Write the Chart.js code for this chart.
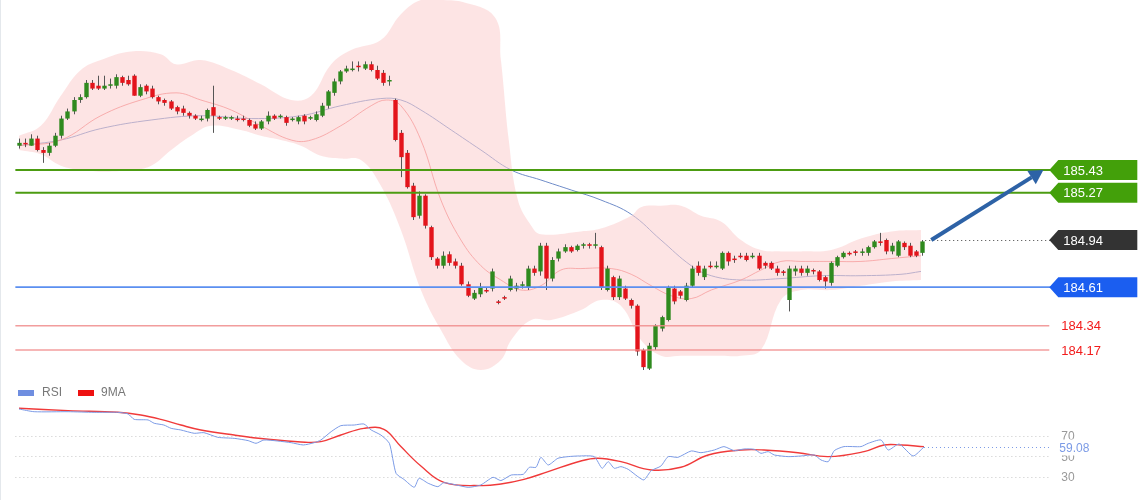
<!DOCTYPE html>
<html><head><meta charset="utf-8">
<script src="https://cdn.jsdelivr.net/npm/chart.js@4.4.1/dist/chart.umd.min.js"></script>
<style>
html,body{margin:0;padding:0;background:#fff;overflow:hidden}
#wrap{position:relative;width:1140px;height:500px;border-left:1px solid #e4e8ec;box-sizing:border-box}
canvas{position:absolute;left:0}
</style></head><body>
<div id="wrap">
<canvas id="price" width="1140" height="380" style="top:0"></canvas>
<canvas id="rsi" width="1140" height="120" style="top:380px"></canvas>
</div>
<script>
const opens=[185.60,185.62,185.60,185.65,185.57,185.55,185.60,185.67,185.79,185.84,
185.92,185.94,186.04,186.02,186.00,186.02,186.02,186.08,186.06,186.09,
185.95,186.02,186.00,185.94,185.92,185.91,185.87,185.86,185.83,185.81,
185.79,185.79,185.87,185.80,185.79,185.79,185.79,185.79,185.78,185.75,
185.72,185.77,185.81,185.80,185.80,185.78,185.77,185.81,185.79,185.78,
185.81,185.88,185.97,186.05,186.12,186.13,186.16,186.14,186.17,186.13,
186.11,186.05,185.92,185.69,185.55,185.32,185.11,185.25,185.03,184.81,
184.76,184.84,184.79,184.76,184.63,184.53,184.56,184.59,184.60,184.51,
184.54,184.59,184.60,184.62,184.61,184.74,184.72,184.90,184.67,184.81,
184.86,184.89,184.87,184.90,184.91,184.90,184.89,184.59,184.68,184.54,
184.60,184.52,184.48,184.17,184.04,184.19,184.32,184.38,184.60,184.58,
184.52,184.62,184.76,184.68,184.76,184.75,184.74,184.85,184.81,184.83,
184.83,184.82,184.83,184.78,184.78,184.74,184.72,184.52,184.72,184.74,
184.71,184.73,184.72,184.68,184.64,184.76,184.82,184.85,184.86,184.85,
184.85,184.89,184.93,184.94,184.86,184.83,184.92,184.90,184.86,184.85];
const closes=[185.62,185.61,185.65,185.57,185.55,185.60,185.67,185.79,185.84,185.92,
185.94,186.04,186.00,186.00,186.02,186.03,186.08,186.04,186.03,185.95,
186.01,185.98,185.94,185.91,185.90,185.86,185.84,185.83,185.81,185.79,
185.79,185.85,185.81,185.79,185.80,185.80,185.78,185.78,185.74,185.72,
185.77,185.81,185.79,185.81,185.76,185.79,185.80,185.77,185.80,185.82,
185.88,185.98,186.05,186.12,186.14,186.14,186.15,186.17,186.13,186.07,
186.04,186.06,185.64,185.52,185.31,185.10,185.25,185.04,184.82,184.76,
184.83,184.78,184.76,184.63,184.55,184.57,184.61,184.58,184.72,184.50,
184.53,184.67,184.62,184.63,184.74,184.71,184.90,184.67,184.80,184.86,
184.89,184.86,184.90,184.91,184.90,184.91,184.61,184.74,184.54,184.67,
184.53,184.48,184.16,184.05,184.20,184.34,184.40,184.61,184.51,184.55,
184.62,184.74,184.71,184.74,184.75,184.76,184.85,184.79,184.80,184.82,
184.80,184.83,184.74,184.76,184.74,184.71,184.71,184.74,184.74,184.71,
184.74,184.72,184.66,184.65,184.78,184.82,184.85,184.84,184.85,184.86,
184.89,184.93,184.92,184.86,184.90,184.93,184.89,184.83,184.83,184.93];
const highs=[185.65,185.65,185.68,185.67,185.59,185.62,185.69,185.81,185.86,185.94,
185.96,186.06,186.06,186.09,186.09,186.07,186.10,186.09,186.09,186.10,
186.03,186.03,186.02,185.95,185.93,185.92,185.88,185.88,185.84,185.82,
185.81,185.86,186.02,185.81,185.81,185.81,185.81,185.81,185.79,185.77,
185.78,185.84,185.82,185.82,185.81,185.80,185.81,185.82,185.81,185.84,
185.90,185.99,186.07,186.13,186.16,186.19,186.19,186.19,186.19,186.16,
186.13,186.09,185.93,185.71,185.57,185.34,185.28,185.26,185.04,184.82,
184.86,184.86,184.81,184.78,184.65,184.59,184.64,184.61,184.74,184.52,
184.55,184.69,184.64,184.65,184.76,184.76,184.92,184.92,184.82,184.88,
184.91,184.90,184.91,184.92,184.92,184.99,184.90,184.76,184.69,184.69,
184.62,184.53,184.49,184.18,184.22,184.35,184.41,184.62,184.62,184.59,
184.64,184.76,184.79,184.76,184.79,184.79,184.86,184.86,184.83,184.85,
184.85,184.85,184.85,184.79,184.79,184.76,184.73,184.76,184.76,184.76,
184.76,184.74,184.73,184.69,184.79,184.83,184.86,184.86,184.87,184.88,
184.90,184.94,184.99,184.95,184.92,184.94,184.93,184.92,184.87,184.94];
const lows=[185.58,185.59,185.60,185.56,185.48,185.53,185.59,185.65,185.78,185.82,
185.90,185.93,185.99,185.99,185.99,186.00,186.00,186.02,186.02,185.95,
185.94,185.96,185.93,185.89,185.88,185.85,185.82,185.81,185.79,185.78,
185.77,185.77,185.69,185.78,185.78,185.78,185.77,185.77,185.73,185.71,
185.71,185.75,185.78,185.79,185.74,185.77,185.75,185.75,185.78,185.77,
185.80,185.86,185.95,186.03,186.11,186.12,186.12,186.13,186.12,186.06,
186.02,186.02,185.63,185.38,185.30,185.08,185.09,185.02,184.80,184.74,
184.74,184.76,184.74,184.62,184.54,184.52,184.54,184.57,184.58,184.49,
184.52,184.58,184.58,184.60,184.59,184.69,184.69,184.59,184.65,184.79,
184.85,184.85,184.86,184.88,184.88,184.88,184.59,184.58,184.52,184.52,
184.52,184.46,184.13,184.03,184.03,184.17,184.30,184.37,184.49,184.53,
184.51,184.61,184.69,184.66,184.74,184.74,184.73,184.76,184.78,184.81,
184.79,184.81,184.73,184.74,184.73,184.69,184.69,184.44,184.69,184.69,
184.69,184.70,184.65,184.60,184.62,184.75,184.81,184.83,184.83,184.83,
184.83,184.88,184.90,184.84,184.84,184.82,184.87,184.82,184.82,184.83];

const bandUpper=[[0,185.67],[3.6,185.74],[6.9,185.95],[10.2,186.13],[13.5,186.20],[18.5,186.26],[23.4,186.24],[25.9,186.17],[30,186.20],[35,186.13],[39.9,186.03],[44.9,185.92],[48.2,185.95],[51.5,186.17],[54.8,186.27],[59.7,186.34],[63,186.52],[66.3,186.62],[69.6,186.62],[72.9,186.61],[78.5,186.50],[79.5,186.20],[80.8,185.64],[82.3,185.22],[84.5,185.04],[86.1,184.98],[92.7,185.00],[96,185.02],[101,185.11],[102.6,185.17],[105.9,185.18],[109.2,185.18],[112.5,185.11],[115.8,185.07],[119.1,184.94],[122.4,184.87],[125.7,184.86],[129,184.86],[134,184.87],[138.9,184.95],[143.9,185.00],[148.8,185.01]];
const bandLower=[[0,185.57],[3.6,185.54],[6.9,185.46],[10.2,185.43],[13.5,185.42],[18.5,185.43],[21.8,185.46],[25.1,185.57],[28.4,185.67],[31.7,185.74],[36.6,185.71],[39.9,185.67],[43.2,185.64],[46.5,185.60],[49.8,185.53],[53.1,185.51],[56.4,185.50],[59.7,185.32],[63,185.01],[66.3,184.59],[69.6,184.31],[72.9,184.10],[76.2,184.03],[79.5,184.10],[81.2,184.24],[84.5,184.38],[87.8,184.38],[92.7,184.45],[96,184.52],[99.3,184.48],[102.6,184.24],[105.9,184.13],[109.2,184.13],[115.8,184.13],[119.1,184.13],[122.4,184.17],[125.7,184.52],[129,184.59],[134,184.59],[138.9,184.62],[143.9,184.65],[148.8,184.66]];
const maFast=[[0,185.60],[6.9,185.64],[13.5,185.81],[20.1,185.92],[25.9,185.97],[30,185.92],[35,185.85],[39.9,185.74],[44.9,185.64],[48.2,185.64],[53.1,185.74],[58.1,185.88],[60.6,185.92],[63,185.88],[66.3,185.64],[69.6,185.22],[72.9,184.94],[76.2,184.76],[79.5,184.66],[82.8,184.59],[86.1,184.62],[89.4,184.73],[92.7,184.74],[97.7,184.74],[101,184.70],[104.3,184.62],[107.6,184.55],[110.9,184.53],[114.2,184.59],[119.1,184.66],[122.4,184.73],[125.7,184.79],[129,184.79],[134,184.79],[138.9,184.79],[143.9,184.81],[148.8,184.83]];
const maSlow=[[0,185.60],[6.9,185.64],[13.5,185.72],[21.8,185.78],[30,185.81],[38.3,185.79],[46.5,185.81],[53.1,185.88],[59.7,185.93],[63,185.92],[66.3,185.85],[71.3,185.71],[76.2,185.57],[81.2,185.43],[86.1,185.36],[91.1,185.29],[96,185.22],[101,185.12],[105.9,184.94],[110.9,184.76],[114.2,184.69],[119.1,184.66],[125.7,184.67],[132.3,184.69],[138.9,184.69],[145.5,184.70],[148.8,184.72]];

const rsiValues=[[0,95.8],[2.5,93.2],[8.1,93.2],[12.4,92.6],[16.3,92.6],[18,91],[19,85.8],[21.3,85.2],[22.3,82],[23.9,80.3],[25.1,77.1],[26.7,75.5],[28.9,72.3],[30.5,72.9],[32.8,68.4],[35.5,67.4],[37.8,65.2],[39.1,62.6],[40.4,65.8],[42.7,64.8],[44.9,63.2],[46.9,61],[48.7,63.2],[49.8,65.8],[51.5,73.9],[53.1,79.7],[55.3,80.3],[56.9,81.3],[58.1,75.5],[59.7,70.6],[61.1,62.6],[62.2,33.5],[63.5,27.7],[65.2,20],[66,28.7],[67.5,23.9],[69.1,20.6],[70.1,24.5],[74.1,20],[76.2,22.3],[78.2,29.7],[79.5,26.5],[81.2,31.9],[83.2,32.6],[84.2,39.4],[85.3,39.4],[86.1,49],[87.3,41.6],[88.9,48.1],[90.6,49.7],[92.2,50.3],[94.9,49.7],[96.2,38.4],[97.2,44.8],[98.2,38.4],[99.3,40],[100.5,37.4],[102.1,30.3],[103.1,27.1],[104.3,36.1],[105.9,40.6],[107.1,49.7],[108.7,49],[110.9,55.2],[112.5,53.5],[114.7,56.1],[116.3,59.4],[118,55.5],[119.6,57.1],[121.3,56.8],[122.4,52.9],[123.6,54.5],[124.6,51.3],[126.9,49.7],[129,50.3],[131.2,51.3],[132.3,46.5],[133.5,44.8],[134.5,55.5],[136.1,59.4],[138.9,59.4],[140.1,62.6],[142.2,65.8],[143.4,56.1],[145.2,61.9],[147.5,50.3],[149.3,59.08]];
const rsiMA=[[0,96.5],[8.1,94.2],[16.3,92.6],[20.1,90],[23.4,85.8],[26.7,80.3],[30,75.5],[35.5,70.6],[41.1,66.5],[46.5,63.9],[49.8,64.2],[53.1,70.6],[56.9,77.1],[60.2,76.1],[63,59.4],[66.3,40.6],[70.1,24.8],[76.2,21.6],[79.5,23.2],[83.3,27.7],[87.3,35.2],[92.7,45.5],[95.5,48.1],[99.3,44.8],[104.3,36.8],[109.2,39.4],[113.7,51.3],[119.1,56.1],[122.9,56.1],[128.5,53.5],[133.5,49.7],[139.4,54.5],[142.7,61],[145.5,61],[149.3,59.4]];

const resistances=[185.43,185.27];
const lastPrice=184.94;
const pivot=184.61;
const supports=[184.34,184.17];
const rsiLevels=[70,50,30];
const rsiLast=59.08;
const arrowFrom=[150.5,184.94], arrowTo=[169,185.43];

const X_MIN=-2.97, X_MAX=185.1, LINE_START=-0.6, LINE_END=170.3;
const FONT='"Liberation Sans", Arial, sans-serif';

function xy(a){return a.map(p=>({x:p[0],y:p[1]}));}

function labelBox(ctx,xr,y,text,bg){
  const x0=xr, x1=xr+86, h=20;
  ctx.save();
  ctx.fillStyle=bg;
  ctx.beginPath();
  ctx.moveTo(x0-2,y);ctx.lineTo(x0+7,y-h/2);ctx.lineTo(x1,y-h/2);ctx.lineTo(x1,y+h/2);ctx.lineTo(x0+7,y+h/2);ctx.closePath();ctx.fill();
  ctx.fillStyle='#fff';ctx.font='13px '+FONT;ctx.textBaseline='middle';
  ctx.fillText(text,x0+12,y+1);
  ctx.restore();
}

const pricePlugin={
  id:'price',
  afterDatasetsDraw(chart){
    const ctx=chart.ctx, xs=chart.scales.x, ys=chart.scales.y;
    const xa=xs.getPixelForValue(LINE_START), xb=xs.getPixelForValue(LINE_END);
    // candles
    const w=xs.getPixelForValue(1)-xs.getPixelForValue(0);
    for(let i=0;i<closes.length;i++){
      const cx=Math.round(xs.getPixelForValue(i))+0.5;
      const up=closes[i]>=opens[i];
      const col=up?'#2f8a1e':'#e3141b';
      ctx.strokeStyle='#555';ctx.lineWidth=1;
      ctx.beginPath();ctx.moveTo(cx,ys.getPixelForValue(highs[i]));ctx.lineTo(cx,ys.getPixelForValue(lows[i]));ctx.stroke();
      const yo=ys.getPixelForValue(opens[i]), yc=ys.getPixelForValue(closes[i]);
      const top=Math.min(yo,yc), hh=Math.max(1.5,Math.abs(yo-yc));
      ctx.fillStyle=col;
      ctx.fillRect(cx-w*0.36,top,w*0.72,hh);
    }
    // levels
    ctx.save();
    resistances.forEach(v=>{const y=ys.getPixelForValue(v);ctx.strokeStyle='#4c9c12';ctx.lineWidth=2;ctx.beginPath();ctx.moveTo(xa,y);ctx.lineTo(xb,y);ctx.stroke();});
    {const y=ys.getPixelForValue(pivot);ctx.strokeStyle='#5b8ff0';ctx.lineWidth=1.6;ctx.beginPath();ctx.moveTo(xa,y);ctx.lineTo(xb,y);ctx.stroke();}
    supports.forEach(v=>{const y=ys.getPixelForValue(v);ctx.strokeStyle='rgba(240,140,140,0.85)';ctx.lineWidth=1.4;ctx.beginPath();ctx.moveTo(xa,y);ctx.lineTo(xb-2,y);ctx.stroke();});
    {const y=Math.round(ys.getPixelForValue(lastPrice))+0.5;ctx.strokeStyle='#444';ctx.lineWidth=1;ctx.setLineDash([1,3]);ctx.beginPath();ctx.moveTo(xs.getPixelForValue(closes.length-0.5),y);ctx.lineTo(xb,y);ctx.stroke();ctx.setLineDash([]);}
    // arrow
    const ax=xs.getPixelForValue(arrowFrom[0]), ay=ys.getPixelForValue(arrowFrom[1]);
    const bx=xs.getPixelForValue(arrowTo[0]), by=ys.getPixelForValue(arrowTo[1]);
    const ang=Math.atan2(by-ay,bx-ax);
    const hx=bx-14*Math.cos(ang), hy=by-14*Math.sin(ang);
    ctx.strokeStyle='#2d62a6';ctx.fillStyle='#2d62a6';ctx.lineWidth=4;
    ctx.beginPath();ctx.moveTo(ax,ay);ctx.lineTo(hx,hy);ctx.stroke();
    ctx.beginPath();ctx.moveTo(bx,by);
    ctx.lineTo(hx+8*Math.cos(ang+Math.PI/2),hy+8*Math.sin(ang+Math.PI/2));
    ctx.lineTo(hx-8*Math.cos(ang+Math.PI/2),hy-8*Math.sin(ang+Math.PI/2));
    ctx.closePath();ctx.fill();
    ctx.restore();
    // labels
    resistances.forEach(v=>labelBox(ctx,xb,ys.getPixelForValue(v),v.toFixed(2),'#43a00a'));
    labelBox(ctx,xb,ys.getPixelForValue(lastPrice),lastPrice.toFixed(2),'#333333');
    labelBox(ctx,xb,ys.getPixelForValue(pivot),pivot.toFixed(2),'#1b5ef0');
    ctx.save();ctx.fillStyle='#f21c1c';ctx.font='13px '+FONT;ctx.textBaseline='middle';
    supports.forEach(v=>ctx.fillText(v.toFixed(2),xb+10,ys.getPixelForValue(v)+1));
    ctx.restore();
  }
};

new Chart(document.getElementById('price'),{
  type:'line',
  data:{datasets:[
    {data:xy(bandUpper),borderWidth:0,borderColor:'rgba(0,0,0,0)',backgroundColor:'rgba(252,205,205,0.55)',fill:'+1',tension:0.4,pointRadius:0},
    {data:xy(bandLower),borderWidth:0,borderColor:'rgba(0,0,0,0)',fill:false,tension:0.4,pointRadius:0},
    {data:xy(maFast),borderWidth:1,borderColor:'rgba(240,100,100,0.8)',fill:false,tension:0.4,pointRadius:0},
    {data:xy(maSlow),borderWidth:1,borderColor:'#6f8cc8',fill:false,tension:0.4,pointRadius:0}
  ]},
  options:{responsive:false,animation:false,events:[],layout:{padding:0},
    plugins:{legend:{display:false},tooltip:{enabled:false}},
    scales:{x:{type:'linear',min:X_MIN,max:X_MAX,display:false},y:{min:183.96,max:186.62,display:false}}},
  plugins:[pricePlugin]
});

const rsiPlugin={
  id:'rsiDeco',
  beforeDatasetsDraw(chart){
    const ctx=chart.ctx, xs=chart.scales.x, ys=chart.scales.y;
    const xa=xs.getPixelForValue(LINE_START), xb=xs.getPixelForValue(LINE_END);
    ctx.save();ctx.strokeStyle='#c8c8c8';ctx.lineWidth=1;ctx.setLineDash([1,3]);
    rsiLevels.forEach(v=>{const y=Math.round(ys.getPixelForValue(v))+0.5;ctx.beginPath();ctx.moveTo(xa,y);ctx.lineTo(xb,y);ctx.stroke();});
    ctx.strokeStyle='#7c9be6';
    const y=Math.round(ys.getPixelForValue(rsiLast))+0.5;
    ctx.beginPath();ctx.moveTo(xs.getPixelForValue(149.3),y);ctx.lineTo(xb,y);ctx.stroke();
    ctx.setLineDash([]);
    ctx.font='12px '+FONT;ctx.textBaseline='middle';ctx.fillStyle='#999';
    rsiLevels.forEach(v=>ctx.fillText(String(v),xb+10,ys.getPixelForValue(v)+1));
    ctx.fillStyle='#fff';ctx.fillRect(xb+6,y-8,40,16);
    ctx.fillStyle='#7c9be6';ctx.fillText(rsiLast.toFixed(2),xb+8,y+1);
    // legend
    ctx.fillStyle='#6f8ee0';ctx.fillRect(17,10,16,6);
    ctx.fillStyle='#ee1111';ctx.fillRect(77,10,16,6);
    ctx.fillStyle='#777';ctx.fillText('RSI',41,13);ctx.fillText('9MA',100,13);
    ctx.restore();
  }
};

new Chart(document.getElementById('rsi'),{
  type:'line',
  data:{datasets:[
    {data:xy(rsiValues),borderWidth:1,borderColor:'#7c9be6',fill:false,tension:0.2,pointRadius:0},
    {data:xy(rsiMA),borderWidth:1.4,borderColor:'#f03a3a',fill:false,tension:0.4,pointRadius:0}
  ]},
  options:{responsive:false,animation:false,events:[],layout:{padding:0},
    plugins:{legend:{display:false},tooltip:{enabled:false}},
    scales:{x:{type:'linear',min:X_MIN,max:X_MAX,display:false},y:{min:7.7,max:123.9,display:false}}},
  plugins:[rsiPlugin]
});
</script>
</body></html>
